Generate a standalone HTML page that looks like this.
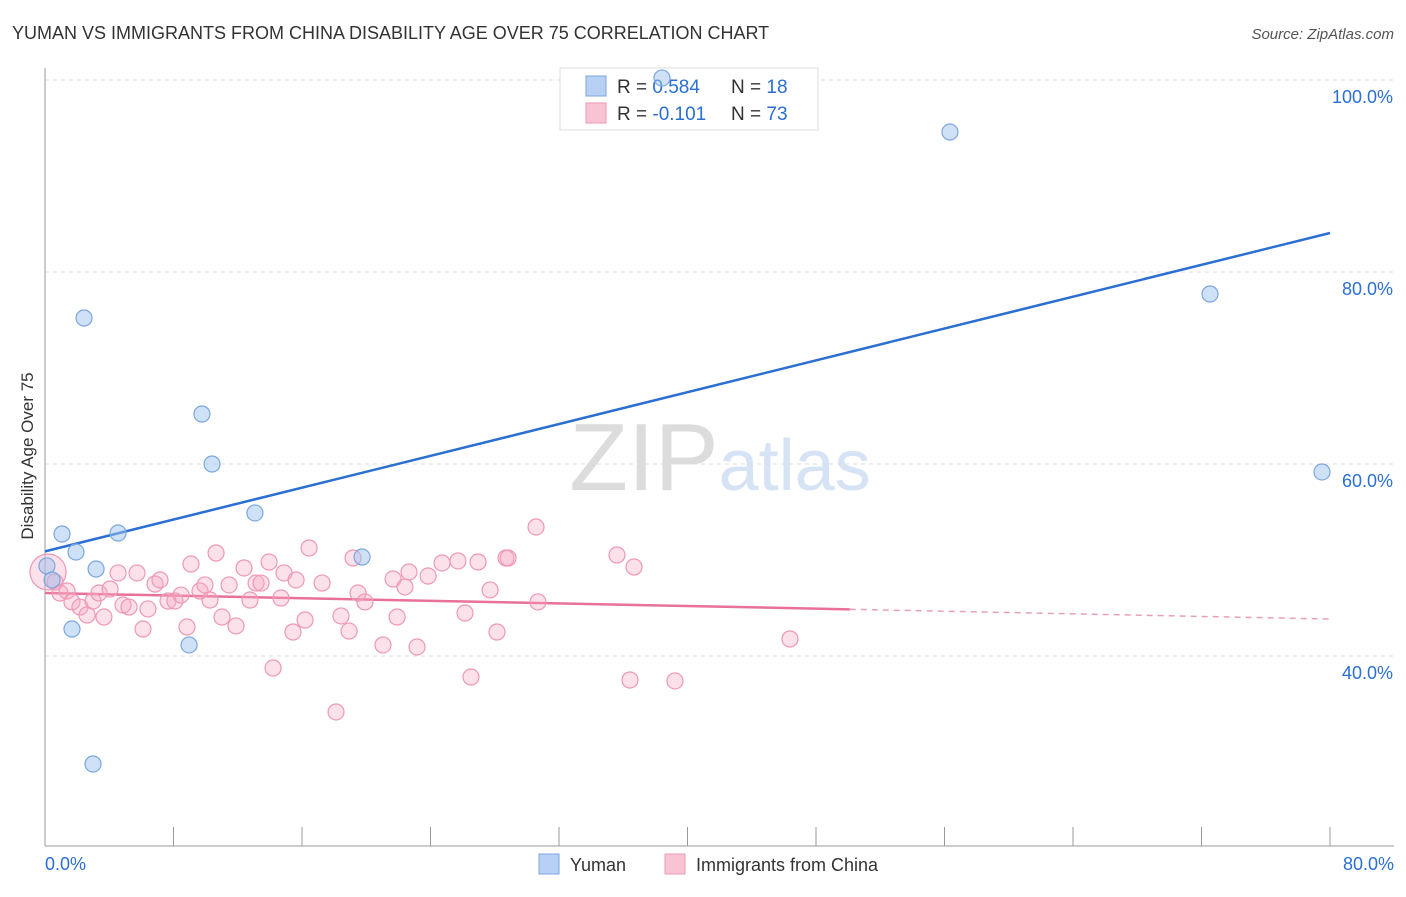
<!DOCTYPE html>
<html><head><meta charset="utf-8"><style>
body{margin:0;background:#fff;font-family:"Liberation Sans",sans-serif;}
svg text{font-family:"Liberation Sans",sans-serif;}
</style></head><body>
<svg id="chart" width="1406" height="892" viewBox="0 0 1406 892" xmlns="http://www.w3.org/2000/svg">
<text x="12" y="39" font-size="18" fill="#333">YUMAN VS IMMIGRANTS FROM CHINA DISABILITY AGE OVER 75 CORRELATION CHART</text>
<text x="1394" y="39" font-size="15" fill="#555" text-anchor="end" font-style="italic">Source: ZipAtlas.com</text>
<text x="720" y="490" font-size="96" text-anchor="middle" fill="#e4e4e4" font-family="Liberation Serif"><tspan fill="#dcdcdc">ZIP</tspan><tspan fill="#d6e3f5" font-family="Liberation Sans" font-size="72">atlas</tspan></text>
<g id="grid"></g>
<g id="axes"></g>
<g>
<rect x="560" y="68" width="258" height="62" fill="#fff" stroke="#ddd"/>
<rect x="586" y="76" width="20" height="20" fill="#b7d0f3" stroke="#7ba7e0"/>
<rect x="586" y="103" width="20" height="20" fill="#f8c4d4" stroke="#ee98b3"/>
<text x="617" y="93" font-size="19" fill="#333">R = <tspan fill="#2a6fd1">0.584</tspan><tspan x="731">N = </tspan><tspan fill="#2a6fd1">18</tspan></text>
<text x="617" y="120" font-size="19" fill="#333">R = <tspan fill="#2a6fd1">-0.101</tspan><tspan x="731">N = </tspan><tspan fill="#2a6fd1">73</tspan></text>
</g>
<g id="lines"></g>
<g id="points"></g>
<text transform="translate(33,456) rotate(-90)" font-size="17" fill="#333" text-anchor="middle">Disability Age Over 75</text>
<g>
<rect x="539" y="854" width="20" height="20" fill="#b7d0f3" stroke="#7ba7e0"/>
<text x="570" y="871" font-size="18" fill="#333">Yuman</text>
<rect x="665" y="854" width="20" height="20" fill="#f8c4d4" stroke="#ee98b3"/>
<text x="696" y="871" font-size="18" fill="#333">Immigrants from China</text>
</g>
</svg>
<script>
const yTicks=[40,60,80,100];
const yTickLabels=["40.0%","60.0%","80.0%","100.0%"];
const xTickLabels=["0.0%","80.0%"];
const blueX=[0.12,1.06,1.93,2.43,3.18,1.68,4.55,9.77,10.40,8.97,2.99,13.07,19.74,38.41,56.34,72.53,79.50,0.44];
const blueY=[49.38,52.71,50.83,75.21,49.06,42.81,52.81,65.21,60.0,41.15,28.75,54.9,50.31,100.2,94.58,77.71,59.17,47.92];
const pinkX=[0.19,0.62,0.93,1.37,1.68,2.18,2.62,2.99,3.36,3.67,4.05,4.55,4.86,5.23,5.73,6.10,6.41,6.85,7.16,7.66,8.09,8.47,8.84,9.09,9.65,9.96,10.27,10.65,11.02,11.46,11.89,12.39,12.76,13.14,13.45,13.95,14.20,14.69,14.88,15.44,15.63,16.19,16.44,17.25,18.12,18.43,18.93,19.18,19.49,19.92,21.04,21.67,21.92,22.41,22.66,23.16,23.85,24.72,25.71,26.15,26.52,26.96,27.71,28.14,28.70,28.83,30.57,30.69,35.61,36.67,36.42,39.22,46.38];
const pinkY=[48.75,47.71,46.56,46.77,45.63,45.10,44.27,45.73,46.56,44.06,46.98,48.65,45.31,45.10,48.65,42.81,44.90,47.50,47.92,45.73,45.73,46.35,43.02,49.58,46.77,47.40,45.83,50.73,44.06,47.40,43.13,49.17,45.83,47.60,47.60,49.79,38.75,46.04,48.65,42.50,47.92,43.75,51.25,47.60,34.17,44.17,42.60,50.21,46.56,45.63,41.15,48.02,44.06,47.19,48.75,40.94,48.33,49.69,49.90,44.48,37.81,49.79,46.88,42.50,50.21,50.21,53.44,45.63,50.52,49.27,37.50,37.40,41.77];
const blueLine=[50.9,84.06];      // y at x=0 and x=80
const pinkLine=[46.56,43.85];     // y at x=0 and x=80
const pinkSolidEnd=50.1;
const NS="http://www.w3.org/2000/svg";
const X=v=>45+v/80*1285, Y=v=>80+(100-v)*9.6;
function mk(tag,attrs,parent){const e=document.createElementNS(NS,tag);for(const k in attrs)e.setAttribute(k,attrs[k]);parent.appendChild(e);return e;}
const grid=document.getElementById('grid'),axes=document.getElementById('axes'),lines=document.getElementById('lines'),pts=document.getElementById('points');
yTicks.forEach((t,i)=>{
 const l=mk('line',{x1:45,x2:1394,y1:Y(t),y2:Y(t),stroke:'#ddd','stroke-dasharray':'4,4'},grid);
 
 
 const tx=mk('text',{x:1393,y:Y(t)+23,'font-size':18,fill:'#2a6fd1','text-anchor':'end'},axes);
 tx.textContent=yTickLabels[i];
 
 
});
mk('line',{x1:45,x2:45,y1:68,y2:846,stroke:'#999'},axes);
mk('line',{x1:45,x2:1394,y1:846,y2:846,stroke:'#999'},axes);
for(let i=0;i<=10;i++){const t=mk('line',{x1:X(i*8),x2:X(i*8),y1:827,y2:846,stroke:'#999'},axes);}
[[0,'start',45],[80,'end',1394]].forEach((d,i)=>{const t=mk('text',{x:d[2],y:870,'font-size':18,fill:'#2a6fd1','text-anchor':d[1]},axes);t.textContent=xTickLabels[i];});
const bl=mk('line',{x1:X(0),y1:Y(blueLine[0]),x2:X(80),y2:Y(blueLine[1]),stroke:'#2a6fd1','stroke-width':2.5},lines);


const pY=x=>pinkLine[0]+(pinkLine[1]-pinkLine[0])*x/80;
const pl=mk('line',{x1:X(0),y1:Y(pY(0)),x2:X(pinkSolidEnd),y2:Y(pY(pinkSolidEnd)),stroke:'#e8709a','stroke-width':2.5},lines);


const pd=mk('line',{x1:X(pinkSolidEnd),y1:Y(pY(pinkSolidEnd)),x2:X(80),y2:Y(pY(80)),stroke:'#e8a0b8','stroke-width':1.5,'stroke-dasharray':'6,5'},lines);


pinkX.forEach((x,i)=>{const c=mk('circle',{cx:X(x),cy:Y(pinkY[i]),r:i===0?18:8,fill:'rgba(245,170,195,0.35)',stroke:'#ee98b3','stroke-width':1.2},pts);
 
 });
blueX.forEach((x,i)=>{const c=mk('circle',{cx:X(x),cy:Y(blueY[i]),r:8,fill:'rgba(160,195,240,0.5)',stroke:'#7ba7e0','stroke-width':1.2},pts);
 
 });
</script>
</body></html>
